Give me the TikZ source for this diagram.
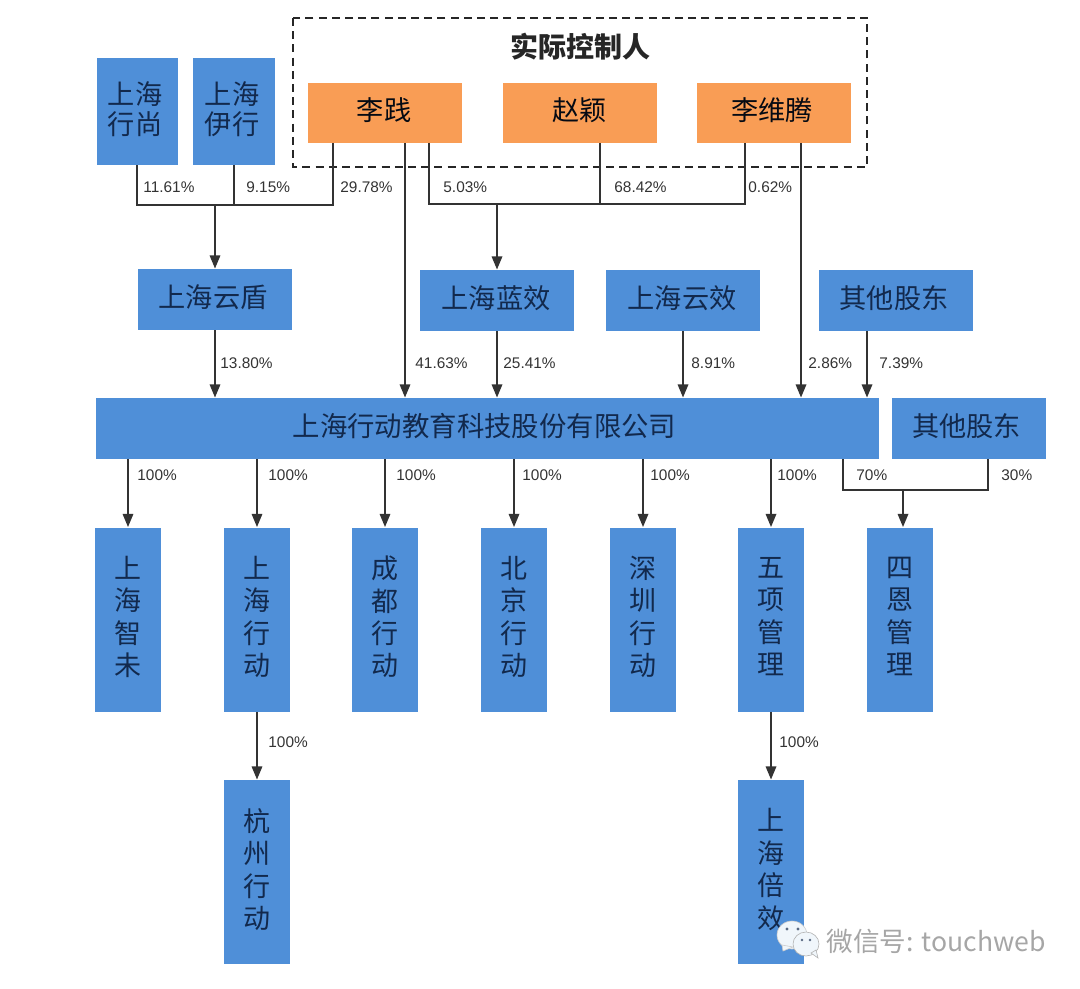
\documentclass[tikz,border=0pt]{standalone}
\usepackage{fontspec}
\setmainfont{Noto Sans CJK SC}
\newfontfamily\pctfont{Liberation Sans}
\usetikzlibrary{arrows.meta}
\definecolor{unitblue}{HTML}{4F8FD8}
\definecolor{personorange}{HTML}{F99D55}
\definecolor{inkblue}{HTML}{12294D}
\definecolor{wirecol}{HTML}{333333}
\definecolor{bubblecol}{HTML}{F0F6FB}
\tikzset{
  unit/.style={fill=unitblue, text=inkblue, inner sep=0pt, align=center, text depth=3.6pt,
    font=\fontsize{13.6}{15}\selectfont},
  wide/.style={unit, minimum width=77pt, minimum height=30.5pt},
  tall/.style={unit, minimum width=33pt, minimum height=92pt,
    font=\fontsize{13.5}{16.2}\selectfont},
  person/.style={wide, minimum height=30pt, fill=personorange, text=black!75!inkblue},
  wire/.style={draw=wirecol, line width=1pt},
  arrow/.style={wire, -{Triangle[length=6.6pt, width=5.2pt]}},
  pct/.style={inner sep=0pt, anchor=west, text=black!80, font=\fontsize{7.7}{9}\pctfont}
}
\begin{document}
\begin{tikzpicture}[x=0.5pt, y=-0.5pt]
\useasboundingbox (0,0) rectangle (1080,989);
% control group
\draw [dashed, line width=0.9pt, draw=black!85, dash pattern=on 4pt off 2.6pt] (293,18) rectangle (867,167);
\node (title) at (580,47) [font=\fontsize{14}{16}\selectfont\bfseries, text=black!85, inner sep=0pt] {实际控制人};
\node [person] (lijian) at (385,113) {李践\kern1pt};
\node [person] (zhaoying) at (579.5,113) {赵颖};
\node [person] (liweiteng) at (774,113) {李维腾\kern2pt};
\node [unit, minimum width=40.5pt, minimum height=53.5pt] (xingshang) at (137,111.5) {上海\kern2pt\\行尚\kern2pt};
\node [unit, minimum width=41pt, minimum height=53.5pt] (yixing) at (234,111.5) {上海\kern2pt\\伊行\kern2pt};
% holding companies
\node [wide] (yundun) at (215,299.5) {上海云盾\kern2pt};
\node [wide] (lanxiao) at (497,300.5) {上海蓝效\kern1pt};
\node [wide] (yunxiao) at (683,300.5) {上海云效\kern1pt};
\node [wide] (otherA) at (896,300.5) {其他股东\kern2pt};
\node [unit, minimum width=391.5pt, minimum height=30.5pt, text depth=4pt, font=\fontsize{13.7}{15}\selectfont] (gongsi) at (487.5,428.5) {上海行动教育科技股份有限公司\kern3pt};
\node [wide] (otherB) at (968.5,428.5) {其他股东\kern2pt};
% subsidiaries
\foreach \name/\x/\lx/\txt in {zhiwei/128/137/上\\海\\智\\未, shanghai/257/268/上\\海\\行\\动, chengdu/385/396/成\\都\\行\\动, beijing/514/522/北\\京\\行\\动, shenzhen/643/650/深\\圳\\行\\动, wuxiang/771/777/五\\项\\管\\理}
{
  \node [tall] (\name) at (\x,619.5) {\txt};
  \draw [arrow] (\name.north |- gongsi.south) -- (\name.north);
  \node [pct] (p\name) at (\lx,475) {100\%};
}
\node [tall] (sien) at (900,619.5) {四\\恩\\管\\理};
\node [tall] (hangzhou) at (257,872) {杭\\州\\行\\动};
\node [tall] (beixiao) at (771,872) {上\\海\\倍\\效};
\draw [arrow] (shanghai) -- (hangzhou);
\draw [arrow] (wuxiang) -- (beixiao);
\node [pct] (phangzhou) at (268,742) {100\%};
\node [pct] (pbeixiao) at (779,742) {100\%};
% first junction
\coordinate (jleft) at (215,205);
\coordinate (ljA) at (333,143);
\draw [wire] (xingshang.south) |- (jleft);
\draw [wire] (yixing.south) |- (jleft);
\draw [wire] (ljA) |- (jleft);
\draw [arrow] (jleft) -- (yundun.north);
% second junction
\coordinate (jmid) at (497,204);
\coordinate (ljC) at (429,143);
\coordinate (zyA) at (600,143);
\coordinate (lwA) at (745,143);
\draw [wire] (ljC) |- (jmid);
\draw [wire] (zyA) |- (jmid);
\draw [wire] (lwA) |- (jmid);
\draw [arrow] (jmid) -- (lanxiao.north);
% into the company
\coordinate (ljB) at (405,143);
\coordinate (lwB) at (801,143);
\draw [arrow] (yundun.south) -- (yundun.south |- gongsi.north);
\draw [arrow] (ljB) -- (ljB |- gongsi.north);
\draw [arrow] (lanxiao.south) -- (lanxiao.south |- gongsi.north);
\draw [arrow] (yunxiao.south) -- (yunxiao.south |- gongsi.north);
\draw [arrow] (lwB) -- (lwB |- gongsi.north);
\coordinate (otA) at (867,331);
\draw [arrow] (otA) -- (otA |- gongsi.north);
% third junction
\coordinate (jsien) at (903,490);
\coordinate (gsA) at (843,459);
\coordinate (obA) at (988,459);
\draw [wire] (gsA) |- (jsien);
\draw [wire] (obA) |- (jsien);
\draw [arrow] (jsien) -- (jsien |- sien.north);
% percent labels
\node [pct] (p1) at (143,187) {11.61\%};
\node [pct] (p2) at (246,187) {9.15\%};
\node [pct] (p3) at (340,187) {29.78\%};
\node [pct] (p4) at (443,187) {5.03\%};
\node [pct] (p5) at (614,187) {68.42\%};
\node [pct] (p6) at (748,187) {0.62\%};
\node [pct] (p7) at (220,363) {13.80\%};
\node [pct] (p8) at (415,363) {41.63\%};
\node [pct] (p9) at (503,363) {25.41\%};
\node [pct] (p10) at (691,363) {8.91\%};
\node [pct] (p11) at (808,363) {2.86\%};
\node [pct] (p12) at (879,363) {7.39\%};
\node [pct] (p13) at (856,475) {70\%};
\node [pct] (p14) at (1001,475) {30\%};
% watermark
\fill [bubblecol, draw=black!20, line width=0.3pt] (792,935) ellipse (15 and 14);
\fill [bubblecol, draw=black!20, line width=0.3pt] (782,945) -- (783,951) -- (793,947) -- cycle;
\fill [bubblecol, draw=black!30, line width=0.3pt] (806,944) ellipse (13 and 12);
\fill [bubblecol, draw=black!30, line width=0.3pt] (811,953) -- (818,958) -- (816,950) -- cycle;
\fill [inkblue!70] (787,929) circle (1.6) (798,929) circle (1.6) (802,940) circle (1.4) (810,940) circle (1.4);
\node (mark) at (826,941) [anchor=west, inner sep=0pt, text=black!35, font=\fontsize{13.3}{15}\selectfont] {微信号: touchweb};
\end{tikzpicture}
\end{document}
